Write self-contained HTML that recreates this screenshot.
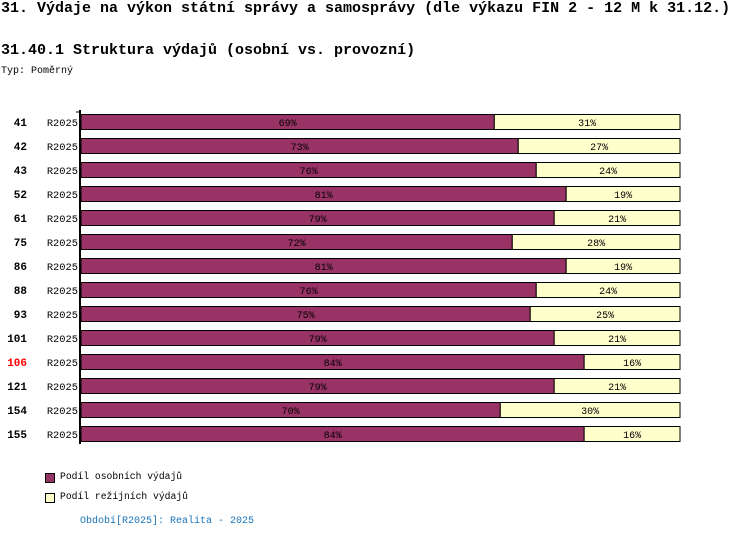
<!DOCTYPE html>
<html><head><meta charset="utf-8"><style>
body{margin:0;width:750px;height:540px;background:#fff;font-family:"Liberation Mono",monospace;position:relative;overflow:hidden}
.t{position:absolute;white-space:nowrap;color:#000}
</style></head><body>
<div class="t" style="left:1px;top:0px;font-size:15px;font-weight:bold">31. Výdaje na výkon státní správy a samosprávy (dle výkazu FIN 2 - 12 M k 31.12.)</div>
<div class="t" style="left:1px;top:42px;font-size:15px;font-weight:bold">31.40.1 Struktura výdajů (osobní vs. provozní)</div>
<div class="t" style="left:1px;top:66px;font-size:10px">Typ: Poměrný</div>
<svg id="c" width="750" height="540" style="position:absolute;left:0;top:0" font-family="Liberation Mono, monospace"></svg>
<script>
const categories=["41","42","43","52","61","75","86","88","93","101","106","121","154","155"];
const periods=["R2025","R2025","R2025","R2025","R2025","R2025","R2025","R2025","R2025","R2025","R2025","R2025","R2025","R2025"];
const personal=[69,73,76,81,79,72,81,76,75,79,84,79,70,84];
const overhead=[31,27,24,19,21,28,19,24,25,21,16,21,30,16];
const highlight="106";
const svg=document.getElementById('c');const NS='http://www.w3.org/2000/svg';
const x0=81,W=599,y0=114,step=24,bh=15;
const xs=v=>x0+v/100*W;const ys=i=>y0+i*step;
function mk(t,a,txt){const e=document.createElementNS(NS,t);for(const k in a)e.setAttribute(k,a[k]);if(txt!=null)e.textContent=txt;svg.appendChild(e);return e;}
categories.forEach((c,i)=>{
 const y=ys(i);
 let r=mk('rect',{x:x0,y:y+0.5,width:xs(personal[i])-x0,height:bh,fill:'#993366',stroke:'#000','stroke-width':1});
 
 
 r=mk('rect',{x:xs(personal[i]),y:y+0.5,width:xs(personal[i]+overhead[i])-xs(personal[i]),height:bh,fill:'#ffffcc',stroke:'#000','stroke-width':1});
 
 
 let t=mk('text',{x:(x0+xs(personal[i]))/2,y:y+12,'font-size':10,'text-anchor':'middle',fill:'#000'},personal[i]+'%');
 
 
 t=mk('text',{x:(xs(personal[i])+xs(personal[i]+overhead[i]))/2,y:y+12,'font-size':10,'text-anchor':'middle',fill:'#000'},overhead[i]+'%');
 
 
 t=mk('text',{x:27,y:y+12,'font-size':11,'font-weight':'bold','text-anchor':'end',fill:c===highlight?'#ff0000':'#000'},c);
 
 
 t=mk('text',{x:78,y:y+12,'font-size':10.4,'text-anchor':'end',fill:'#000'},periods[i]);
 
 
});
let ax=mk('line',{x1:80,y1:110,x2:80,y2:444,stroke:'#000','stroke-width':2});


mk('line',{x1:76,y1:112,x2:80,y2:112,stroke:'#000','stroke-width':1});
</script>
<div style="position:absolute;left:45px;top:473px;width:8px;height:8px;background:#993366;border:1px solid #000"></div>
<div class="t" style="left:60px;top:471px;font-size:9.7px">Podíl osobních výdajů</div>
<div style="position:absolute;left:45px;top:493px;width:8px;height:8px;background:#ffffcc;border:1px solid #000"></div>
<div class="t" style="left:60px;top:491px;font-size:9.7px">Podíl režijních výdajů</div>
<div class="t" style="left:80px;top:516px;font-size:10px;color:#1a73b8">Období[R2025]: Realita - 2025</div>
</body></html>
